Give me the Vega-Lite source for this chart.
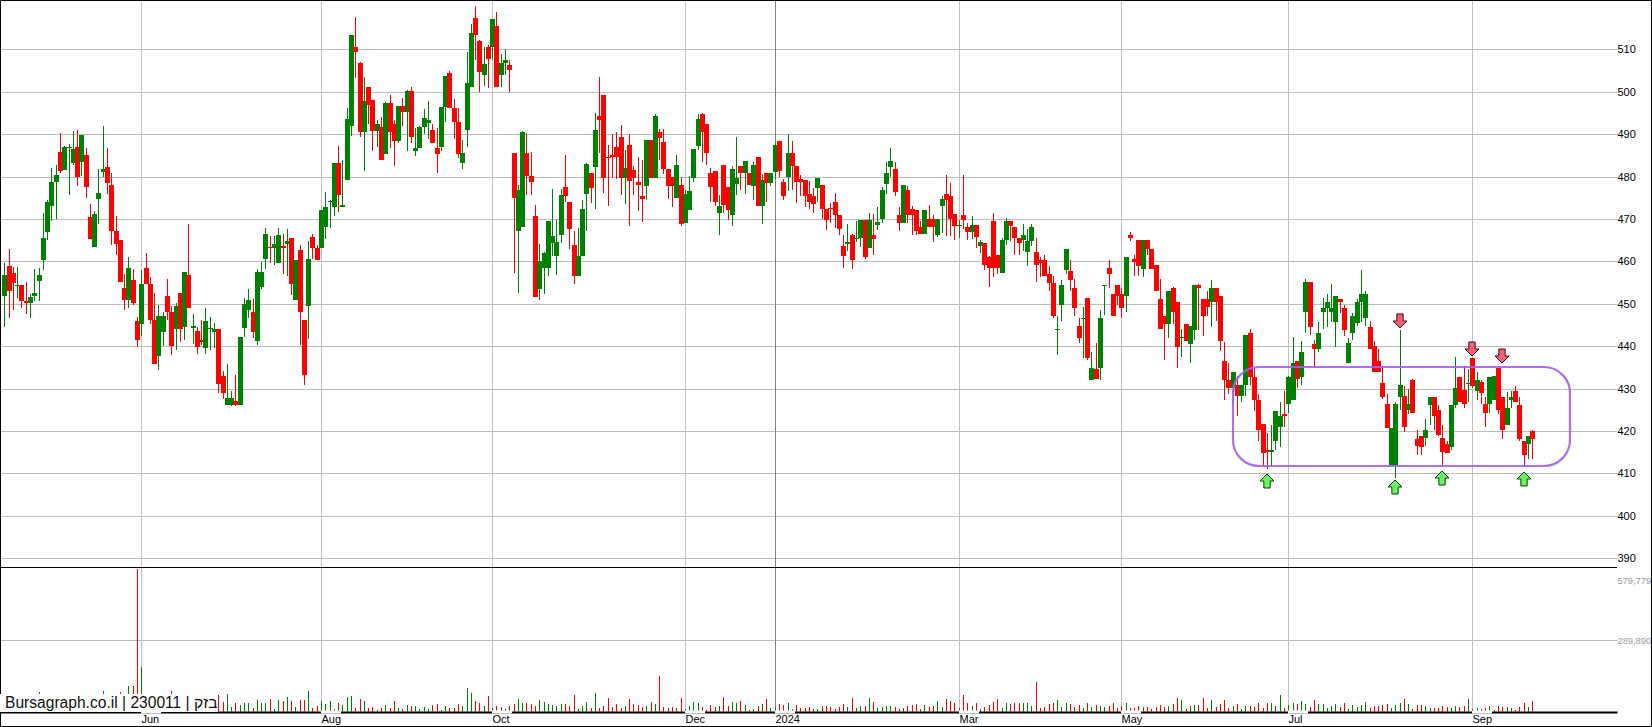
{"$schema":"https://vega.github.io/schema/vega-lite/v6.json","width":1617,"height":712,"autosize":{"type":"none"},"padding":{"left":0,"top":0,"right":35,"bottom":15},"background":"#ffffff","config":{"view":{"stroke":null},"font":"Liberation Sans"},
"datasets":{"candles":[
{"i":0,"o":451.7,"h":459.5,"l":444.6,"c":456.8,"v":35200},{"i":1,"o":458.9,"h":462.8,"l":446.7,"c":453.1,"v":27100},{"i":2,"o":457.2,"h":458.7,"l":448.5,"c":455,"v":31100},{"i":3,"o":454.1,"h":458.7,"l":451.4,"c":454.4,"v":23000},{"i":4,"o":454.4,"h":454.4,"l":449,"c":450.6,"v":27100},{"i":5,"o":450.6,"h":455.2,"l":447.6,"c":450.2,"v":35200},{"i":6,"o":450.2,"h":452.3,"l":446.7,"c":451.6,"v":23000},{"i":7,"o":451.7,"h":458.2,"l":450.7,"c":452.5,"v":19000},{"i":8,"o":455.4,"h":458.4,"l":450.7,"c":456.8,"v":79800},{"i":9,"o":460.2,"h":471.3,"l":458,"c":465.5,"v":43300},
{"i":10,"o":467,"h":474.5,"l":465,"c":474,"v":35200},{"i":11,"o":473.1,"h":482,"l":469.4,"c":478.7,"v":47400},{"i":12,"o":478.7,"h":482.7,"l":470,"c":480.4,"v":39200},{"i":13,"o":485.8,"h":490.2,"l":480.8,"c":481.3,"v":43300},{"i":14,"o":481.5,"h":487.2,"l":481.5,"c":487,"v":31100},{"i":15,"o":486.7,"h":487.7,"l":475.6,"c":487,"v":27100},{"i":16,"o":483.2,"h":490.7,"l":482.6,"c":486.5,"v":35200},{"i":17,"o":487,"h":491,"l":477.8,"c":480,"v":31100},{"i":18,"o":483.4,"h":489.8,"l":480.1,"c":489.8,"v":39200},{"i":19,"o":485.1,"h":486.7,"l":475,"c":477.6,"v":27100},
{"i":20,"o":470.5,"h":473.5,"l":465.3,"c":465.3,"v":31100},{"i":21,"o":463.4,"h":471.9,"l":463.4,"c":471.2,"v":35200},{"i":22,"o":474.7,"h":481.8,"l":468.8,"c":476.1,"v":27100},{"i":23,"o":481,"h":491.9,"l":480,"c":481.8,"v":83900},{"i":24,"o":482.2,"h":486.7,"l":475.9,"c":478.5,"v":39200},{"i":25,"o":478,"h":480.8,"l":463.9,"c":467.2,"v":47400},{"i":26,"o":467.2,"h":470.7,"l":461.5,"c":464.1,"v":35200},{"i":27,"o":465,"h":465,"l":455.1,"c":455.1,"v":79800},{"i":28,"o":453.7,"h":457,"l":448.5,"c":450.9,"v":43300},{"i":29,"o":450.9,"h":461,"l":449,"c":458.4,"v":104200},
{"i":30,"o":455.6,"h":458.2,"l":449.7,"c":450.2,"v":104200},{"i":31,"o":445.9,"h":446.9,"l":439.8,"c":441.4,"v":579779},{"i":32,"o":445.2,"h":458,"l":442.4,"c":454.6,"v":182700},{"i":33,"o":458.4,"h":462,"l":454.6,"c":454.6,"v":51400},{"i":34,"o":454.6,"h":456.3,"l":445.2,"c":446.2,"v":47400},{"i":35,"o":446.2,"h":452.5,"l":435.8,"c":435.8,"v":43300},{"i":36,"o":437.7,"h":449.7,"l":434.4,"c":447.1,"v":39200},{"i":37,"o":443.3,"h":448,"l":440,"c":447.1,"v":35200},{"i":38,"o":451.8,"h":455.8,"l":446.2,"c":448,"v":43300},{"i":39,"o":448,"h":449.5,"l":438,"c":440,"v":83900},
{"i":40,"o":444,"h":450.2,"l":439,"c":449.5,"v":39200},{"i":41,"o":452.5,"h":452.5,"l":441,"c":444,"v":35200},{"i":42,"o":444.5,"h":457.5,"l":441.5,"c":457.5,"v":47400},{"i":43,"o":456.8,"h":468.8,"l":449,"c":449,"v":43300},{"i":44,"o":444.2,"h":447.6,"l":440.5,"c":444.7,"v":31100},{"i":45,"o":443.6,"h":444.5,"l":438.1,"c":439.8,"v":27100},{"i":46,"o":441.4,"h":446.2,"l":440.3,"c":441,"v":23000},{"i":47,"o":439.6,"h":449,"l":438.1,"c":445.9,"v":31100},{"i":48,"o":444,"h":446.9,"l":439.1,"c":444.3,"v":27100},{"i":49,"o":443.3,"h":445.5,"l":439.6,"c":444,"v":35200},
{"i":50,"o":444,"h":444,"l":428.9,"c":431,"v":67700},{"i":51,"o":433,"h":434.1,"l":427.5,"c":428.9,"v":39200},{"i":52,"o":426,"h":435.8,"l":426,"c":427.7,"v":71700},{"i":53,"o":426,"h":429.5,"l":425.8,"c":427.7,"v":18900},{"i":54,"o":427,"h":433.2,"l":425.8,"c":426,"v":35200},{"i":55,"o":426,"h":442.2,"l":426,"c":442.2,"v":27100},{"i":56,"o":444.3,"h":451.4,"l":442.2,"c":450,"v":35200},{"i":57,"o":448.5,"h":453.5,"l":446.6,"c":450.9,"v":35200},{"i":58,"o":448,"h":451,"l":441.9,"c":443.3,"v":14900},{"i":59,"o":441.2,"h":458.2,"l":440.3,"c":457.5,"v":47400},
{"i":60,"o":453.9,"h":459.8,"l":453.5,"c":457.5,"v":35200},{"i":61,"o":460.5,"h":467.9,"l":458.2,"c":466.4,"v":35200},{"i":62,"o":463.4,"h":466,"l":459.6,"c":463.1,"v":51400},{"i":63,"o":463.1,"h":466,"l":459.1,"c":464.1,"v":10800},{"i":64,"o":459.6,"h":467.9,"l":459.6,"c":466.2,"v":47400},{"i":65,"o":463.6,"h":466.4,"l":457,"c":463.1,"v":43300},{"i":66,"o":464.1,"h":467.6,"l":456.5,"c":464.8,"v":59500},{"i":67,"o":465.5,"h":465.5,"l":452,"c":454.6,"v":43300},{"i":68,"o":450.9,"h":460.3,"l":450.9,"c":460.3,"v":18900},{"i":69,"o":462.7,"h":463.9,"l":440.3,"c":448,"v":47400},
{"i":70,"o":446.2,"h":446.2,"l":430.8,"c":433.2,"v":47400},{"i":71,"o":449.5,"h":464.8,"l":441.7,"c":460.5,"v":83900},{"i":72,"o":465.7,"h":466.4,"l":460.5,"c":463.1,"v":14900},{"i":73,"o":463.1,"h":463.9,"l":460.3,"c":460.3,"v":23000},{"i":74,"o":463.1,"h":472.1,"l":463.1,"c":472.1,"v":43300},{"i":75,"o":468,"h":476.4,"l":465.3,"c":472.8,"v":31100},{"i":76,"o":473.9,"h":474.5,"l":467.9,"c":474.2,"v":43300},{"i":77,"o":472.8,"h":483.2,"l":470.7,"c":483.2,"v":10800},{"i":78,"o":483.2,"h":487.2,"l":471.6,"c":475.6,"v":35200},{"i":79,"o":472.8,"h":483.9,"l":472.8,"c":473.3,"v":27100},
{"i":80,"o":479.2,"h":496.2,"l":479.2,"c":493.6,"v":59500},{"i":81,"o":491.9,"h":513.4,"l":489.6,"c":513.4,"v":63600},{"i":82,"o":510.6,"h":517.6,"l":503.2,"c":509.4,"v":14900},{"i":83,"o":506.8,"h":507,"l":489.3,"c":490.5,"v":51400},{"i":84,"o":490.5,"h":503.5,"l":481.3,"c":497.8,"v":43300},{"i":85,"o":501.1,"h":501.1,"l":492.4,"c":496.9,"v":14900},{"i":86,"o":498,"h":498,"l":486,"c":490.7,"v":18900},{"i":87,"o":490.7,"h":493.3,"l":487,"c":492.4,"v":6800},{"i":88,"o":491.7,"h":494,"l":483.9,"c":483.9,"v":14900},{"i":89,"o":485.3,"h":497.6,"l":485.3,"c":497.3,"v":27100},
{"i":90,"o":497.3,"h":499.2,"l":486.7,"c":490.5,"v":14900},{"i":91,"o":492.4,"h":493.3,"l":482.5,"c":488.4,"v":43300},{"i":92,"o":488.4,"h":496.6,"l":487.9,"c":496.6,"v":14900},{"i":93,"o":496.6,"h":498.5,"l":491.9,"c":495.2,"v":10800},{"i":94,"o":495.2,"h":500.4,"l":486,"c":500.2,"v":27100},{"i":95,"o":500.2,"h":501.1,"l":487.9,"c":489.3,"v":23000},{"i":96,"o":486,"h":491.4,"l":484.8,"c":486.7,"v":23000},{"i":97,"o":486.7,"h":491.9,"l":486.7,"c":491.7,"v":10800},{"i":98,"o":491.7,"h":495.9,"l":490,"c":493.8,"v":18900},{"i":99,"o":492.6,"h":497.8,"l":488.9,"c":493.3,"v":10800},
{"i":100,"o":491,"h":492.4,"l":487.9,"c":487.9,"v":27100},{"i":101,"o":486.7,"h":491.4,"l":480.8,"c":485.3,"v":31100},{"i":102,"o":487,"h":496.4,"l":486,"c":496.4,"v":6800},{"i":103,"o":496.4,"h":503.7,"l":492.9,"c":503.7,"v":23000},{"i":104,"o":504.4,"h":504.9,"l":496.2,"c":496.2,"v":14900},{"i":105,"o":496.2,"h":498.3,"l":488.9,"c":492.9,"v":14900},{"i":106,"o":492.9,"h":496.2,"l":484.4,"c":485.3,"v":31100},{"i":107,"o":483.2,"h":488.6,"l":481.8,"c":485.5,"v":23000},{"i":108,"o":491,"h":509.4,"l":487,"c":502,"v":96100},{"i":109,"o":501.1,"h":516,"l":501.1,"c":513.9,"v":75800},
{"i":110,"o":517.4,"h":520.2,"l":507.5,"c":513.4,"v":43300},{"i":111,"o":512,"h":512.2,"l":499.9,"c":504.7,"v":35200},{"i":112,"o":503.9,"h":510.6,"l":501.4,"c":506.5,"v":23000},{"i":113,"o":510.6,"h":511,"l":500.9,"c":507.7,"v":63600},{"i":114,"o":510.6,"h":517.2,"l":507.5,"c":517.2,"v":14900},{"i":115,"o":515.5,"h":518.8,"l":501.1,"c":501.1,"v":23000},{"i":116,"o":504,"h":509,"l":501,"c":506.8,"v":18900},{"i":117,"o":506.8,"h":510,"l":504,"c":507.5,"v":10800},{"i":118,"o":506.3,"h":507.5,"l":500,"c":505.1,"v":23000},{"i":119,"o":485.5,"h":485.5,"l":457.2,"c":474.9,"v":31100},
{"i":120,"o":467.1,"h":478,"l":452.5,"c":476.8,"v":51400},{"i":121,"o":468.1,"h":490.7,"l":468.1,"c":490.5,"v":35200},{"i":122,"o":485.5,"h":490.2,"l":475.6,"c":480.1,"v":35200},{"i":123,"o":480.1,"h":485.8,"l":475.6,"c":478.7,"v":31100},{"i":124,"o":470.7,"h":473.3,"l":451.6,"c":451.6,"v":23000},{"i":125,"o":453.5,"h":464.1,"l":450.9,"c":460,"v":47400},{"i":126,"o":458.4,"h":462.2,"l":452.3,"c":462,"v":39200},{"i":127,"o":458.4,"h":469.5,"l":456.5,"c":469.5,"v":31100},{"i":128,"o":464.3,"h":477,"l":461.2,"c":466,"v":27100},{"i":129,"o":461.2,"h":469.7,"l":456.8,"c":464.5,"v":23000},
{"i":130,"o":466.2,"h":477,"l":464.3,"c":475.6,"v":31100},{"i":131,"o":477.5,"h":485,"l":474,"c":475.4,"v":31100},{"i":132,"o":474,"h":474,"l":462.9,"c":467.6,"v":23000},{"i":133,"o":463.8,"h":467.1,"l":454.6,"c":456.5,"v":67700},{"i":134,"o":456.5,"h":467.8,"l":456.5,"c":461.2,"v":10800},{"i":135,"o":461.2,"h":474.4,"l":461.2,"c":472.3,"v":23000},{"i":136,"o":475.9,"h":483.2,"l":467.1,"c":482.9,"v":39200},{"i":137,"o":480.8,"h":480.8,"l":473.7,"c":477.3,"v":14900},{"i":138,"o":482.2,"h":495,"l":472.3,"c":491,"v":75800},{"i":139,"o":494.3,"h":503.5,"l":485.5,"c":493.3,"v":14900},
{"i":140,"o":499.2,"h":499.2,"l":476.1,"c":479.6,"v":23000},{"i":141,"o":484.7,"h":487.4,"l":473,"c":484.4,"v":55500},{"i":142,"o":485,"h":490,"l":479.6,"c":484.6,"v":18900},{"i":143,"o":487,"h":490.5,"l":479.4,"c":484.6,"v":31100},{"i":144,"o":489.3,"h":492.1,"l":475.6,"c":479.6,"v":14900},{"i":145,"o":479.6,"h":486.2,"l":473.5,"c":482,"v":23000},{"i":146,"o":487.4,"h":490,"l":468.3,"c":478.9,"v":51400},{"i":147,"o":481.5,"h":482.5,"l":475.6,"c":479.6,"v":31100},{"i":148,"o":478.7,"h":484.6,"l":471.9,"c":478,"v":27100},{"i":149,"o":475.4,"h":483.9,"l":469.3,"c":474.7,"v":18900},
{"i":150,"o":477.8,"h":488.6,"l":474.4,"c":488.6,"v":23000},{"i":151,"o":488.6,"h":488.6,"l":479.6,"c":479.6,"v":39200},{"i":152,"o":479.6,"h":494.7,"l":479.6,"c":494.3,"v":31100},{"i":153,"o":490.5,"h":491.2,"l":483.9,"c":489.1,"v":144800},{"i":154,"o":488.1,"h":491.2,"l":480.6,"c":481.8,"v":18900},{"i":155,"o":481.8,"h":481.8,"l":474.7,"c":477.8,"v":14900},{"i":156,"o":480,"h":480,"l":472.8,"c":477.8,"v":18900},{"i":157,"o":474.9,"h":485,"l":474.9,"c":482.7,"v":14900},{"i":158,"o":478,"h":479.9,"l":468.3,"c":468.8,"v":55500},{"i":159,"o":469,"h":476.8,"l":469,"c":475.9,"v":10800},
{"i":160,"o":472.1,"h":480.1,"l":472.1,"c":476.6,"v":23000},{"i":161,"o":479.6,"h":486.5,"l":478.7,"c":486.5,"v":39200},{"i":162,"o":487.2,"h":494.7,"l":486.2,"c":493.6,"v":35200},{"i":163,"o":494.7,"h":495,"l":483.4,"c":490.5,"v":18900},{"i":164,"o":492.4,"h":492.4,"l":482.7,"c":485.5,"v":6800},{"i":165,"o":480.8,"h":482,"l":474,"c":477.5,"v":27100},{"i":166,"o":481.3,"h":481.3,"l":473,"c":474,"v":18900},{"i":167,"o":471.4,"h":475.6,"l":466.2,"c":473,"v":23000},{"i":168,"o":482.7,"h":482.7,"l":471.4,"c":473.3,"v":59500},{"i":169,"o":477.5,"h":477.5,"l":469.7,"c":472.1,"v":23000},
{"i":170,"o":470.9,"h":482.5,"l":468.3,"c":481.8,"v":39200},{"i":171,"o":478.2,"h":489.3,"l":475.6,"c":479.6,"v":35200},{"i":172,"o":482.5,"h":482.5,"l":476.8,"c":480.8,"v":43300},{"i":173,"o":480.8,"h":483.6,"l":475.9,"c":483.6,"v":27100},{"i":174,"o":480.8,"h":480.8,"l":478,"c":478,"v":6800},{"i":175,"o":477.8,"h":483.4,"l":474.4,"c":482.7,"v":10800},{"i":176,"o":484.6,"h":484.6,"l":473,"c":473,"v":23000},{"i":177,"o":473,"h":480.6,"l":468.8,"c":479.2,"v":31100},{"i":178,"o":480.8,"h":480.8,"l":474,"c":478.5,"v":51400},{"i":179,"o":478.5,"h":480.8,"l":477.8,"c":480.8,"v":14900},
{"i":180,"o":481,"h":487.9,"l":479.4,"c":487.4,"v":14900},{"i":181,"o":488.4,"h":488.4,"l":479.9,"c":481.3,"v":31100},{"i":182,"o":478.7,"h":479.4,"l":474.4,"c":475.4,"v":27100},{"i":183,"o":479.9,"h":490,"l":476.6,"c":485.5,"v":35200},{"i":184,"o":485.5,"h":488.4,"l":476.8,"c":482.5,"v":10800},{"i":185,"o":482.5,"h":482.5,"l":473.7,"c":478.7,"v":27100},{"i":186,"o":479.4,"h":480.3,"l":475.4,"c":478.7,"v":14900},{"i":187,"o":479.2,"h":479.2,"l":472.8,"c":475.4,"v":14900},{"i":188,"o":475.9,"h":478.9,"l":472.3,"c":474,"v":18900},{"i":189,"o":475.4,"h":477.3,"l":471.4,"c":473.5,"v":10800},
{"i":190,"o":477.3,"h":479.6,"l":474,"c":479.6,"v":10800},{"i":191,"o":478,"h":478,"l":470,"c":472.3,"v":23000},{"i":192,"o":472.3,"h":472.3,"l":467.4,"c":469.7,"v":23000},{"i":193,"o":472.6,"h":473.7,"l":469,"c":472.3,"v":18900},{"i":194,"o":474,"h":476.1,"l":467.8,"c":470.9,"v":10800},{"i":195,"o":470.9,"h":470.9,"l":466.2,"c":467.6,"v":18900},{"i":196,"o":463.6,"h":466.2,"l":458.4,"c":461.2,"v":31100},{"i":197,"o":464.1,"h":468.8,"l":462.4,"c":464.5,"v":18900},{"i":198,"o":466.2,"h":466.4,"l":458.2,"c":460.3,"v":55500},{"i":199,"o":465.3,"h":469.5,"l":464.5,"c":465.5,"v":14900},
{"i":200,"o":465.5,"h":469.7,"l":463.4,"c":469.7,"v":23000},{"i":201,"o":469.7,"h":469.7,"l":460.5,"c":461,"v":23000},{"i":202,"o":463.1,"h":471.4,"l":463.1,"c":469.7,"v":55500},{"i":203,"o":466.2,"h":471.1,"l":461.5,"c":465.3,"v":39200},{"i":204,"o":468.6,"h":472.8,"l":467.4,"c":469.3,"v":14900},{"i":205,"o":470,"h":477.5,"l":469,"c":476.8,"v":18900},{"i":206,"o":478.2,"h":483.4,"l":475.9,"c":480.8,"v":23000},{"i":207,"o":482.2,"h":486.7,"l":479.9,"c":483.6,"v":23000},{"i":208,"o":481.8,"h":483.4,"l":475.4,"c":476.3,"v":18900},{"i":209,"o":470.9,"h":472.8,"l":467.1,"c":469,"v":10800},
{"i":210,"o":469,"h":478,"l":469,"c":478,"v":14900},{"i":211,"o":476.8,"h":477.8,"l":469,"c":470.9,"v":23000},{"i":212,"o":472.3,"h":473,"l":466.2,"c":470.9,"v":27100},{"i":213,"o":472.1,"h":472.1,"l":466.2,"c":467.1,"v":31100},{"i":214,"o":468.1,"h":469.5,"l":466.4,"c":466.4,"v":10800},{"i":215,"o":466.4,"h":472.1,"l":466.4,"c":472.1,"v":27100},{"i":216,"o":470,"h":473.3,"l":468.1,"c":468.1,"v":18900},{"i":217,"o":470,"h":470.9,"l":464.5,"c":468.1,"v":23000},{"i":218,"o":466.2,"h":470,"l":465.7,"c":470,"v":43300},{"i":219,"o":473,"h":475.4,"l":466.7,"c":474.7,"v":18900},
{"i":220,"o":475.9,"h":480.3,"l":466,"c":474.4,"v":51400},{"i":221,"o":475.4,"h":478.5,"l":466,"c":470,"v":43300},{"i":222,"o":471.1,"h":471.1,"l":465,"c":468.3,"v":35200},{"i":223,"o":468.3,"h":469.7,"l":465.5,"c":468.6,"v":14900},{"i":224,"o":470.9,"h":480.3,"l":467.6,"c":469.7,"v":67700},{"i":225,"o":468.1,"h":469,"l":465,"c":466.9,"v":35200},{"i":226,"o":466.9,"h":470.7,"l":465.3,"c":468.6,"v":23000},{"i":227,"o":468.6,"h":468.6,"l":463.1,"c":465.7,"v":35200},{"i":228,"o":463.6,"h":465.1,"l":462,"c":464.5,"v":10800},{"i":229,"o":464.4,"h":464.4,"l":458,"c":459.2,"v":18900},
{"i":230,"o":461,"h":461.2,"l":454,"c":458.5,"v":27100},{"i":231,"o":469.4,"h":471.3,"l":456.4,"c":458.5,"v":39200},{"i":232,"o":461.4,"h":461.4,"l":456.9,"c":458.5,"v":51400},{"i":233,"o":457.3,"h":465.4,"l":457.3,"c":465.1,"v":14900},{"i":234,"o":465.1,"h":470.1,"l":463.9,"c":469.4,"v":35200},{"i":235,"o":469.4,"h":469.4,"l":464.9,"c":468.4,"v":31100},{"i":236,"o":468.2,"h":468.2,"l":461.4,"c":465.6,"v":35200},{"i":237,"o":465.6,"h":465.6,"l":461.4,"c":464.2,"v":35200},{"i":238,"o":465.1,"h":468.9,"l":462.5,"c":466.3,"v":35200},{"i":239,"o":462.1,"h":467.7,"l":458.8,"c":464.9,"v":35200},
{"i":240,"o":464.9,"h":468.7,"l":463.5,"c":468.2,"v":23000},{"i":241,"o":462.3,"h":465.4,"l":455.2,"c":459.2,"v":120400},{"i":242,"o":460.4,"h":460.9,"l":456.4,"c":459.5,"v":14900},{"i":243,"o":460.4,"h":461.6,"l":456.6,"c":456.6,"v":18900},{"i":244,"o":457.1,"h":459,"l":453.1,"c":455,"v":31100},{"i":245,"o":455,"h":456.6,"l":446.7,"c":447.2,"v":35200},{"i":246,"o":443.8,"h":447,"l":437.8,"c":444.1,"v":47400},{"i":247,"o":449.6,"h":455.7,"l":446,"c":454.3,"v":18900},{"i":248,"o":458,"h":463,"l":456.9,"c":462.8,"v":35200},{"i":249,"o":457.6,"h":460.4,"l":453.1,"c":455.5,"v":31100},
{"i":250,"o":453.8,"h":455.9,"l":447.2,"c":448.9,"v":18900},{"i":251,"o":444.8,"h":446.7,"l":440.8,"c":442,"v":27100},{"i":252,"o":446.4,"h":449.3,"l":437.1,"c":446.7,"v":14900},{"i":253,"o":451.4,"h":451.4,"l":436.8,"c":437.3,"v":35200},{"i":254,"o":432.1,"h":438.7,"l":432.1,"c":434.9,"v":18900},{"i":255,"o":434.7,"h":440.8,"l":432.3,"c":432.3,"v":27100},{"i":256,"o":434.9,"h":448.4,"l":431.9,"c":446.7,"v":23000},{"i":257,"o":454.2,"h":454.5,"l":447.4,"c":454.5,"v":18900},{"i":258,"o":458.5,"h":460.4,"l":453.8,"c":457.1,"v":23000},{"i":259,"o":452.4,"h":452.4,"l":447.2,"c":447.2,"v":35200},
{"i":260,"o":454.5,"h":454.5,"l":449.8,"c":451.7,"v":14900},{"i":261,"o":452.4,"h":453.8,"l":446.7,"c":448.9,"v":23000},{"i":262,"o":451.9,"h":460.9,"l":448.1,"c":460.9,"v":35200},{"i":263,"o":466.3,"h":466.8,"l":464.7,"c":465.4,"v":14900},{"i":264,"o":460.6,"h":461.4,"l":456.6,"c":459.9,"v":14900},{"i":265,"o":465.1,"h":465.1,"l":456.6,"c":459,"v":23000},{"i":266,"o":458.3,"h":465.1,"l":456.4,"c":465.1,"v":18900},{"i":267,"o":465.1,"h":465.1,"l":461.4,"c":463,"v":18900},{"i":268,"o":462.8,"h":462.8,"l":458.3,"c":458.3,"v":10800},{"i":269,"o":459.2,"h":459.2,"l":452.9,"c":452.9,"v":18900},
{"i":270,"o":451.2,"h":455.9,"l":444.1,"c":444.1,"v":27100},{"i":271,"o":447.2,"h":447.2,"l":436.8,"c":445.1,"v":18900},{"i":272,"o":445.1,"h":452.9,"l":442,"c":452.9,"v":23000},{"i":273,"o":453.8,"h":454,"l":445.1,"c":448.1,"v":31100},{"i":274,"o":450.3,"h":450.3,"l":434.9,"c":439.7,"v":55500},{"i":275,"o":441.9,"h":444.1,"l":437.5,"c":442.2,"v":47400},{"i":276,"o":445.1,"h":445.1,"l":441.1,"c":441.1,"v":10800},{"i":277,"o":440.4,"h":444.8,"l":436.1,"c":444.8,"v":23000},{"i":278,"o":443.9,"h":454.5,"l":441.5,"c":454.5,"v":27100},{"i":279,"o":454.3,"h":454.7,"l":443.9,"c":453.8,"v":27100},
{"i":280,"o":451,"h":451,"l":442.5,"c":447.2,"v":55500},{"i":281,"o":451,"h":452.9,"l":447.2,"c":449.3,"v":14900},{"i":282,"o":450.3,"h":455.7,"l":444.4,"c":453.8,"v":47400},{"i":283,"o":453.8,"h":453.8,"l":446,"c":450.3,"v":18900},{"i":284,"o":451.9,"h":451.9,"l":438.9,"c":441.1,"v":31100},{"i":285,"o":436.4,"h":441,"l":427.2,"c":431.9,"v":47400},{"i":286,"o":431.9,"h":435.9,"l":428.8,"c":430.2,"v":14900},{"i":287,"o":430.2,"h":433.8,"l":426.4,"c":433.8,"v":23000},{"i":288,"o":430.9,"h":433,"l":423.4,"c":428.3,"v":31100},{"i":289,"o":428.3,"h":430.9,"l":426.7,"c":430.9,"v":10800},
{"i":290,"o":430.9,"h":442.7,"l":428.3,"c":442.7,"v":23000},{"i":291,"o":443.2,"h":444.1,"l":430.9,"c":432.6,"v":23000},{"i":292,"o":432.6,"h":434.9,"l":424.8,"c":427.2,"v":18900},{"i":293,"o":427.2,"h":428.6,"l":417.5,"c":420.3,"v":35200},{"i":294,"o":421.7,"h":421.7,"l":411.8,"c":414.9,"v":14900},{"i":295,"o":415.5,"h":419.4,"l":410.9,"c":415.1,"v":35200},{"i":296,"o":415.1,"h":421.5,"l":411.8,"c":415.6,"v":35200},{"i":297,"o":417.5,"h":424.6,"l":415.4,"c":424.6,"v":23000},{"i":298,"o":421,"h":426.7,"l":416.3,"c":423.6,"v":67700},{"i":299,"o":424.1,"h":429.3,"l":421,"c":423.6,"v":14900},
{"i":300,"o":426.4,"h":433,"l":424.3,"c":432.6,"v":27100},{"i":301,"o":427.4,"h":442.2,"l":427.4,"c":435.9,"v":35200},{"i":302,"o":436.4,"h":436.4,"l":430.2,"c":432.3,"v":31100},{"i":303,"o":432.8,"h":441.3,"l":430.9,"c":438.5,"v":43300},{"i":304,"o":448.1,"h":455.9,"l":443.2,"c":455.2,"v":31100},{"i":305,"o":455.2,"h":455.2,"l":442.7,"c":444.6,"v":18900},{"i":306,"o":440.4,"h":441.5,"l":435.4,"c":439.4,"v":47400},{"i":307,"o":439.4,"h":445.8,"l":438.5,"c":443.2,"v":31100},{"i":308,"o":448.1,"h":451.4,"l":444.1,"c":449.1,"v":31100},{"i":309,"o":449.1,"h":452.4,"l":444.4,"c":450.3,"v":14900},
{"i":310,"o":448.1,"h":454.7,"l":445.8,"c":449.1,"v":23000},{"i":311,"o":445.8,"h":451.7,"l":439.9,"c":451.7,"v":31100},{"i":312,"o":451.2,"h":451.2,"l":447.9,"c":450.5,"v":18900},{"i":313,"o":449.1,"h":449.8,"l":442.5,"c":443.7,"v":35200},{"i":314,"o":436.1,"h":441.8,"l":436.1,"c":440.8,"v":10800},{"i":315,"o":443.2,"h":447.9,"l":441.5,"c":447,"v":27100},{"i":316,"o":445.5,"h":451.2,"l":444.8,"c":450.5,"v":18900},{"i":317,"o":450.3,"h":458,"l":445.8,"c":452.4,"v":27100},{"i":318,"o":446.7,"h":452.9,"l":444.8,"c":452.2,"v":39200},{"i":319,"o":444.4,"h":446,"l":439.2,"c":439.2,"v":14900},
{"i":320,"o":440.1,"h":441.1,"l":433.8,"c":433.8,"v":23000},{"i":321,"o":436.6,"h":439.4,"l":434,"c":434,"v":23000},{"i":322,"o":431.2,"h":435.2,"l":427.6,"c":428.1,"v":27100},{"i":323,"o":426.4,"h":428.6,"l":420.6,"c":420.6,"v":31100},{"i":324,"o":412,"h":420.6,"l":412,"c":420.6,"v":14900},{"i":325,"o":412,"h":426.9,"l":409,"c":426.4,"v":27100},{"i":326,"o":428.1,"h":443.9,"l":425,"c":430.9,"v":35200},{"i":327,"o":428.3,"h":430.5,"l":419.8,"c":421,"v":51400},{"i":328,"o":425,"h":429.8,"l":424.1,"c":426.4,"v":31100},{"i":329,"o":432.1,"h":432.3,"l":424.3,"c":424.3,"v":10800},
{"i":330,"o":418.2,"h":420.1,"l":414.2,"c":416.5,"v":27100},{"i":331,"o":418.7,"h":418.9,"l":414.2,"c":416.3,"v":27100},{"i":332,"o":418.4,"h":422.7,"l":416.5,"c":420.3,"v":23000},{"i":333,"o":426,"h":428.1,"l":421.5,"c":428.1,"v":14900},{"i":334,"o":428.1,"h":428.1,"l":420.3,"c":423.6,"v":14900},{"i":335,"o":425,"h":426,"l":418.9,"c":419.1,"v":14900},{"i":336,"o":418.4,"h":421.5,"l":411.6,"c":415.1,"v":23000},{"i":337,"o":417,"h":417.5,"l":414.7,"c":414.7,"v":18900},{"i":338,"o":416.1,"h":426.2,"l":415.6,"c":426.2,"v":14900},{"i":339,"o":426.2,"h":437.5,"l":425.5,"c":430.2,"v":23000},
{"i":340,"o":432.8,"h":432.8,"l":426.9,"c":426.9,"v":18900},{"i":341,"o":429.7,"h":435.4,"l":425.3,"c":426.4,"v":23000},{"i":342,"o":431.1,"h":434.5,"l":426.9,"c":431.4,"v":51400},{"i":343,"o":437.1,"h":437.1,"l":430.2,"c":430.7,"v":10800},{"i":344,"o":429.3,"h":434,"l":427.2,"c":431.9,"v":14900},{"i":345,"o":431.6,"h":432.1,"l":426.4,"c":429,"v":10800},{"i":346,"o":426.4,"h":427.9,"l":421,"c":424.3,"v":14900},{"i":347,"o":426.4,"h":432.6,"l":424.3,"c":432.6,"v":23000},{"i":348,"o":427.2,"h":433,"l":427.2,"c":433,"v":6800},{"i":349,"o":434.9,"h":434.9,"l":424.1,"c":425,"v":23000},
{"i":350,"o":427.9,"h":427.9,"l":418,"c":420.1,"v":18900},{"i":351,"o":421.5,"h":429.1,"l":421.5,"c":425.5,"v":18900},{"i":352,"o":427.4,"h":429.5,"l":425.3,"c":428.1,"v":14900},{"i":353,"o":429.5,"h":430.5,"l":426.7,"c":426.7,"v":6800},{"i":354,"o":426.2,"h":428.1,"l":417.7,"c":418.2,"v":18900},{"i":355,"o":417.5,"h":417.5,"l":411.6,"c":414.2,"v":35200},{"i":356,"o":416.8,"h":418.9,"l":413.3,"c":418.9,"v":18900},{"i":357,"o":419.9,"h":420.3,"l":413.3,"c":418,"v":43300}],
"frame":[{"i1":-0.9,"i2":384.7,"p1":521.63,"p2":350.4}],
"zone":[{"i1":287.1,"i2":365.8,"p1":435,"p2":411.7}],
"up":[{"i":295,"p":408.1},{"i":325,"p":406.8},{"i":336,"p":408.9},{"i":355,"p":408.6}],
"down":[{"i":326,"p":446},{"i":343,"p":439.3},{"i":350,"p":437.7}],
"divider":[{"p":387.9}],
"cover":[{"i1":-1,"i2":49.9,"v1":0,"v2":74400}],
"months":[{"i":32},{"i":74},{"i":114},{"i":159},{"i":180},{"i":223},{"i":261},{"i":300},{"i":343}],
"caption":[{"i":0.15,"v":38000,"t":"Bursagraph.co.il | 230011 | בזק"}]},
"resolve":{"scale":{"y":"independent"},"axis":{"y":"independent"}},
"layer":[
{"layer":[
{"data":{"name":"months"},"mark":{"type":"rule","strokeWidth":1,"xOffset":0.5},"encoding":{"x":{"field":"i","type":"quantitative","title":null},"color":{"condition":{"test":"datum.i===180","value":"#808080"},"value":"#C4C1BA"}}},
{"data":{"name":"candles"},"mark":{"type":"rule","strokeWidth":1,"xOffset":0.5},"encoding":{"x":{"field":"i","type":"quantitative","title":null,"scale":{"domain":[-1.005,376.8],"range":[0,1617],"round":true,"nice":false,"zero":false,"padding":0},"axis":{"values":[32,74,114,159,180,223,261,300,343],"title":null,"grid":false,"domain":true,"domainColor":"#000000","domainWidth":2,"ticks":false,"labelAlign":"left","labelBaseline":"top","labelPadding":1,"labelFontSize":11,"labelColor":"#000000","labelFont":"Liberation Sans","labelOverlap":false,"labelFlush":false,"labelBound":false,"labelExpr":"{'32':'Jun','74':'Aug','114':'Oct','159':'Dec','180':'2024','223':'Mar','261':'May','300':'Jul','343':'Sep'}[datum.value]"}},"y":{"field":"l","type":"quantitative","scale":{"domain":[387.9,521.63],"range":[567,0],"round":true,"nice":false,"zero":false},"axis":{"orient":"right","values":[390,400,410,420,430,440,450,460,470,480,490,500,510],"title":null,"grid":true,"gridColor":"#BDBDBD","gridWidth":1,"domain":false,"ticks":false,"labelPadding":0,"labelFontSize":11,"labelColor":"#000000","labelFont":"Liberation Sans","labelOverlap":false,"labelBound":false,"format":"d"}},"y2":{"field":"h"},"color":{"condition":{"test":"datum.c>=datum.o","value":"#008000"},"value":"#FF0000"}}},
{"data":{"name":"candles"},"mark":{"type":"bar","size":5,"xOffset":0.5,"x2Offset":0.5},"encoding":{"x":{"field":"i","type":"quantitative","title":null},"y":{"field":"o","type":"quantitative"},"y2":{"field":"c"},"color":{"condition":{"test":"datum.c>=datum.o","value":"#008000"},"value":"#FF0000"}}},
{"data":{"name":"divider"},"mark":{"type":"rule","color":"#000000","strokeWidth":1,"yOffset":0.5},"encoding":{"y":{"field":"p","type":"quantitative"}}},
{"data":{"name":"zone"},"mark":{"type":"rect","cornerRadius":26,"fillOpacity":0,"fill":"#ffffff","stroke":"#A45EF0","strokeWidth":2.2,"strokeOpacity":0.9},"encoding":{"x":{"field":"i1","type":"quantitative","title":null},"x2":{"field":"i2"},"y":{"field":"p1","type":"quantitative"},"y2":{"field":"p2"}}},
{"data":{"name":"up"},"mark":{"type":"point","shape":"M0,-1 L1,0 L0.45,0 L0.45,1 L-0.45,1 L-0.45,0 L-1,0 Z","filled":true,"fill":"#66F55A","stroke":"#0B3D12","strokeWidth":1,"opacity":1,"size":196},"encoding":{"x":{"field":"i","type":"quantitative","title":null},"y":{"field":"p","type":"quantitative"}}},
{"data":{"name":"down"},"mark":{"type":"point","shape":"M0,1 L1,0 L0.45,0 L0.45,-1 L-0.45,-1 L-0.45,0 L-1,0 Z","filled":true,"fill":"#FF5F78","stroke":"#3D0B12","strokeWidth":1,"opacity":1,"size":196},"encoding":{"x":{"field":"i","type":"quantitative","title":null},"y":{"field":"p","type":"quantitative"}}},
{"data":{"name":"frame"},"mark":{"type":"rect","fillOpacity":0,"fill":"#ffffff","stroke":"#000000","strokeWidth":1,"xOffset":0.5,"x2Offset":0.5,"yOffset":0.5,"y2Offset":0.5},"encoding":{"x":{"field":"i1","type":"quantitative","title":null},"x2":{"field":"i2"},"y":{"field":"p1","type":"quantitative"},"y2":{"field":"p2"}}}
]},
{"layer":[
{"data":{"name":"candles"},"mark":{"type":"rule","strokeWidth":1,"xOffset":0.5},"encoding":{"x":{"field":"i","type":"quantitative","title":null},"y":{"field":"v","type":"quantitative","scale":{"domain":[0,586300],"range":[712,567],"round":true,"nice":false,"zero":false},"axis":{"orient":"right","values":[289890,579779],"title":null,"grid":true,"gridColor":{"condition":{"test":"datum.value>500000","value":"transparent"},"value":"#BDBDBD"},"gridWidth":1,"domain":false,"ticks":false,"labelPadding":0,"labelFontSize":9.3,"labelColor":"#999999","labelFont":"Liberation Sans","labelOverlap":false,"labelBound":false,"format":",d","labelOffset":{"condition":{"test":"datum.value>500000","value":11},"value":0}}},"y2":{"datum":0},"color":{"condition":{"test":"datum.c>=datum.o","value":"#008000"},"value":"#FF0000"}}},
{"data":{"name":"cover"},"mark":{"type":"rect","color":"#ffffff"},"encoding":{"x":{"field":"i1","type":"quantitative","title":null},"x2":{"field":"i2"},"y":{"field":"v1","type":"quantitative"},"y2":{"field":"v2"}}},
{"data":{"name":"caption"},"mark":{"type":"text","align":"left","baseline":"middle","font":"Liberation Sans","fontSize":15.6,"color":"#111111"},"encoding":{"x":{"field":"i","type":"quantitative","title":null},"y":{"field":"v","type":"quantitative"},"text":{"field":"t"}}},
{"data":{"name":"months"},"mark":{"type":"rule","color":"#ffffff","strokeWidth":3,"x2Offset":20},"encoding":{"x":{"field":"i","type":"quantitative","title":null},"x2":{"field":"i"},"y":{"datum":0}}}
]}
]}
